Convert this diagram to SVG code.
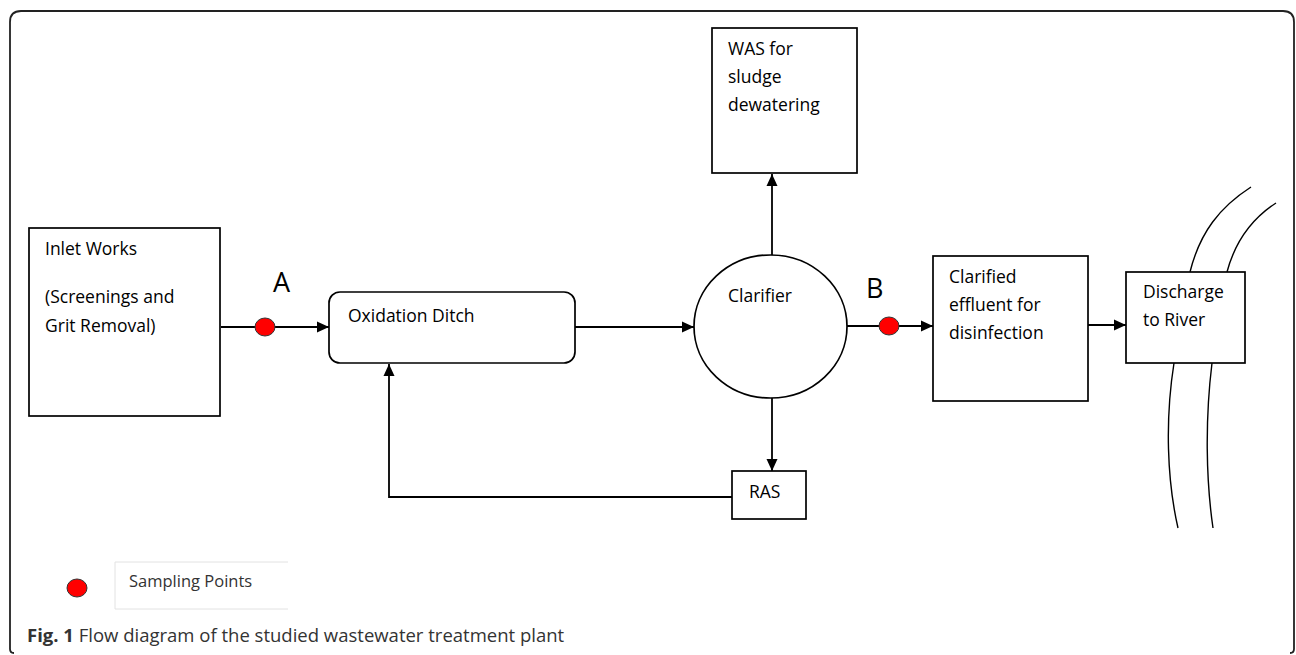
<svg xmlns="http://www.w3.org/2000/svg" width="1296" height="655" viewBox="0 0 1296 655">
  <style>
    .box { fill: #fff; stroke: #000; stroke-width: 1.7; }
    .lbl { font-family: "Open Sans", "Liberation Sans", sans-serif; font-size: 17.5px; fill: #000; }
    .big { font-family: "Open Sans", "Liberation Sans", sans-serif; font-size: 27px; fill: #000; }
    .conn { fill: none; stroke: #000; stroke-width: 1.8; }
    .dot { fill: #ff0000; stroke: #333; stroke-width: 1; }
    .river { fill: none; stroke: #000; stroke-width: 1.4; }
  </style>
  <defs>
    <marker id="arr" markerUnits="userSpaceOnUse" markerWidth="13" markerHeight="13" refX="12" refY="6.5" orient="auto">
      <path d="M0,1 L12,6.5 L0,12 z" fill="#000"/>
    </marker>
  </defs>
  <rect width="1296" height="655" fill="#fff"/>
  <path d="M14,653 Q10,653 10,649 L10,22 Q10,11 21,11 L1283,11 Q1294,11 1294,22 L1294,649 Q1294,653 1290,653" fill="none" stroke="#222" stroke-width="1.8"/>

  <g id="river">
    <path class="river" d="M1190,272 C1200,232 1220,207 1251,187"/>
    <path class="river" d="M1227,272 C1235,242 1250,220 1276,203"/>
    <path class="river" d="M1174,363 C1165,420 1167,480 1178,528"/>
    <path class="river" d="M1212,363 C1205,420 1206,480 1213,528"/>
  </g>

  <g id="connectors">
    <line class="conn" x1="221" y1="327" x2="329" y2="327" marker-end="url(#arr)"/>
    <line class="conn" x1="575" y1="327" x2="694" y2="327" marker-end="url(#arr)"/>
    <line class="conn" x1="772" y1="255" x2="772" y2="174" marker-end="url(#arr)"/>
    <line class="conn" x1="772" y1="398" x2="772" y2="471" marker-end="url(#arr)"/>
    <polyline class="conn" points="732,497 389,497 389,364" marker-end="url(#arr)"/>
    <line class="conn" x1="847" y1="326" x2="933" y2="326" marker-end="url(#arr)"/>
    <line class="conn" x1="1088" y1="325" x2="1126" y2="325" marker-end="url(#arr)"/>
  </g>

  <g id="inlet">
    <rect class="box" x="29" y="228" width="191" height="188"/>
    <text class="lbl" x="45" y="255">Inlet Works</text>
    <text class="lbl" x="45" y="303">(Screenings and</text>
    <text class="lbl" x="45" y="332">Grit Removal)</text>
  </g>

  <g id="pointA">
    <text class="big" x="273" y="292">A</text>
    <ellipse class="dot" cx="265" cy="327" rx="10" ry="9"/>
  </g>

  <g id="ditch">
    <rect class="box" x="329" y="292" width="246" height="71" rx="11" ry="11"/>
    <text class="lbl" x="348" y="322">Oxidation Ditch</text>
  </g>

  <g id="clarifier">
    <ellipse class="box" cx="770.5" cy="326.5" rx="76.5" ry="71.5"/>
    <text class="lbl" x="728" y="302">Clarifier</text>
  </g>

  <g id="was">
    <rect class="box" x="712" y="28" width="145" height="145"/>
    <text class="lbl" x="728" y="55">WAS for</text>
    <text class="lbl" x="728" y="83">sludge</text>
    <text class="lbl" x="728" y="111">dewatering</text>
  </g>

  <g id="ras">
    <rect class="box" x="732" y="471" width="74" height="48"/>
    <text class="lbl" x="749" y="498">RAS</text>
  </g>

  <g id="pointB">
    <text class="big" x="866" y="298" font-size="28">B</text>
    <ellipse class="dot" cx="889" cy="326" rx="10" ry="9"/>
  </g>

  <g id="clarified">
    <rect class="box" x="933" y="256" width="155" height="145"/>
    <text class="lbl" x="949" y="283">Clarified</text>
    <text class="lbl" x="949" y="311">effluent for</text>
    <text class="lbl" x="949" y="339">disinfection</text>
  </g>

  <g id="discharge">
    <rect class="box" x="1126" y="272" width="119" height="91"/>
    <text class="lbl" x="1143" y="298">Discharge</text>
    <text class="lbl" x="1143" y="326">to River</text>
  </g>

  <g id="legend">
    <ellipse class="dot" cx="77" cy="588" rx="10" ry="9"/>
    <path d="M288,562 L115,562 L115,609 L288,609" fill="#fff" stroke="#e2e2e2" stroke-width="1"/>
    <text x="129" y="587" font-family="'Open Sans', 'Liberation Sans', sans-serif" font-size="16.5" fill="#333">Sampling Points</text>
  </g>

  <text x="27" y="642" font-family="'Open Sans', 'Liberation Sans', sans-serif" font-size="18.5" fill="#333"><tspan font-weight="bold">Fig. 1</tspan> Flow diagram of the studied wastewater treatment plant</text>
</svg>
